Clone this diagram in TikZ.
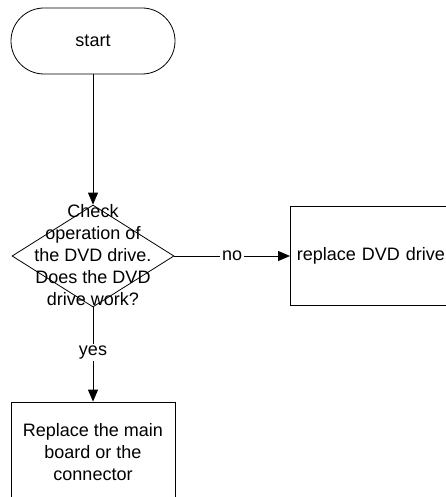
\documentclass[tikz,border=0pt]{standalone}
\usepackage{fontspec}
\setmainfont{Liberation Sans}
\usetikzlibrary{arrows.meta,shapes.geometric}
\begin{document}
\begin{tikzpicture}[x=1pt,y=-1pt,
  every node/.style={font=\fontsize{18}{22}\selectfont},
  line/.style={draw=black,line width=0.8pt},
  arr/.style={line,-{Triangle[length=12pt,width=10pt]}},
  term/.style={draw,line width=0.8pt,rounded corners=33pt,minimum width=164pt,minimum height=66pt,inner sep=0pt},
  decision/.style={draw,line width=0.8pt,diamond,minimum width=162pt,minimum height=102pt,inner sep=0pt},
  proc/.style={draw,line width=0.8pt,minimum width=164pt,minimum height=100pt,inner sep=0pt,align=center},
  lbl/.style={fill=white,inner sep=2pt}]
\useasboundingbox (0,0) rectangle (446,497);
\clip (0,0) rectangle (446,497);
\node[term] (start) at (93,41) {start};
\node[decision] (dec) at (93,256) {};
\node[align=center,inner sep=0pt] (dectext) at (93,255) {Check\\operation of\\the DVD drive.\\Does the DVD\\drive work?};
\node[draw,line width=0.8pt,anchor=west,minimum height=99pt,text width=188pt,inner xsep=6.5pt,inner ysep=0pt,align=left] (dvd) at (290,256) {replace DVD drive};
\node[proc] (main) at (93,452) {Replace the main\\board or the\\connector};
\draw[arr] (start.south) -- (dec.north);
\draw[arr] (dec.east) -- node[lbl] (no) {no} (dvd.west);
\draw[arr] (dec.south) -- node[lbl,pos=0.48] (yes) {yes} (main.north);
\end{tikzpicture}
\end{document}
